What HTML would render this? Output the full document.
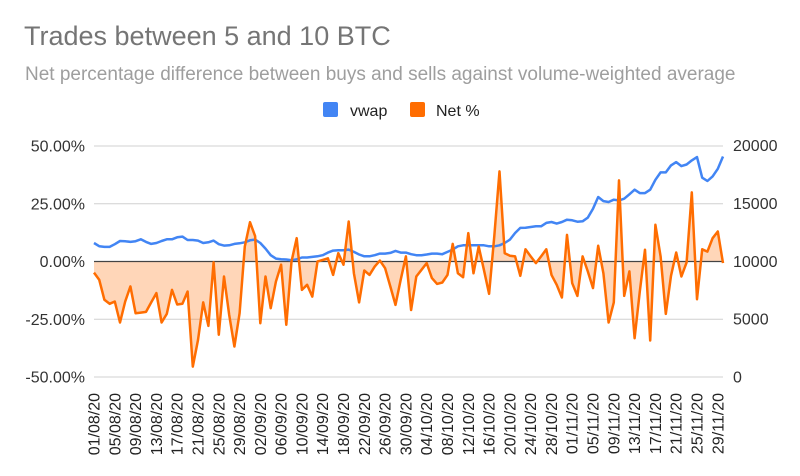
<!DOCTYPE html>
<html><head><meta charset="utf-8"><style>
html,body{margin:0;padding:0;background:#fff;width:800px;height:476px;overflow:hidden;font-family:"Liberation Sans",Arial,sans-serif}
</style></head><body>
<svg id="chart" width="800" height="476" xmlns="http://www.w3.org/2000/svg" font-family="Liberation Sans, Arial, sans-serif">
<text x="24" y="45" font-size="27" fill="#757575">Trades between 5 and 10 BTC</text>
<text x="25" y="80" font-size="19" fill="#9e9e9e">Net percentage difference between buys and sells against volume-weighted average</text>
<g>
<g><rect x="323" y="102" width="15" height="15" rx="2" fill="#4285f4"/><text x="350" y="116" font-size="16" fill="#222">vwap</text></g>
<g><rect x="410" y="102" width="15" height="15" rx="2" fill="#ff6d01"/><text x="436" y="116" font-size="16" fill="#222">Net %</text></g>
</g>
<g id="grid"></g><g id="marks"></g><g id="axes"></g>
</svg>
<script>
const tickLabelsX = ["01/08/20","05/08/20","09/08/20","13/08/20","17/08/20","21/08/20","25/08/20","29/08/20","02/09/20","06/09/20","10/09/20","14/09/20","18/09/20","22/09/20","26/09/20","30/09/20","04/10/20","08/10/20","12/10/20","16/10/20","20/10/20","24/10/20","28/10/20","01/11/20","05/11/20","09/11/20","13/11/20","17/11/20","21/11/20","25/11/20","29/11/20"];
const leftTicks = [-50,-25,0,25,50];
const rightTicks = [0,5000,10000,15000,20000];
const netPct = [-4.8,-7.9,-16.6,-18.3,-17.3,-26.4,-17.3,-10.8,-22.4,-22.1,-21.8,-17.7,-13.7,-26.4,-22.7,-12.3,-18.6,-18.3,-13.0,-45.5,-34.0,-17.7,-27.9,-0.4,-31.7,-6.5,-23.1,-36.8,-22.4,6.5,17.0,11,
-26.7,-6.5,-20.2,-8.7,-1.4,-27.4,0,10.1,-12.3,-10.1,-15.2,0,0.7,1.4,-5.8,3.6,-1.4,17.3,-5.1,-17.7,-3.9,-5.8,-2.2,0.4,-2.9,-10.8,-18.8,-7.9,2.2,-21.0,
-6.5,-3.6,-0.7,-7.2,-9.7,-9.1,-5.8,7.6,-5.1,-6.8,12.3,-5.1,6.5,-3.6,-14.0,11,39.0,3.6,2.5,2.2,-6.2,5.3,2.2,-0.7,2.2,5.3,-5.8,-10.1,-15.6,11.5,-9.4,
-14.9,2.2,-4.3,-11.5,6.8,-5.1,-26.4,-17.7,35.1,-14.9,-4.3,-33.2,-13.0,5.1,-34.2,15.9,2.2,-22.7,-6.2,3.9,-6.5,-0.4,29.9,-16.3,5.3,4.3,10.1,13.0,-0.7];
const vwap = [11580,11300,11240,11240,11470,11750,11730,11670,11730,11900,11670,11500,11580,11750,11900,11900,12070,12130,11840,11840,11780,11580,11640,11780,11470,11350,11380,11500,11550,11640,11810,11870,
11580,11090,10520,10230,10170,10150,10090,10170,10320,10320,10380,10430,10520,10750,10920,10950,10950,11010,10810,10580,10430,10430,10520,10660,10660,10720,10890,10750,10750,10610,
10520,10520,10580,10660,10660,10610,10810,11010,11290,11380,11380,11380,11380,11380,11290,11290,11380,11580,11870,12440,12880,12900,12960,13020,13020,13310,13390,13250,13390,13590,13540,
13420,13450,13770,14540,15550,15200,15120,15320,15260,15400,15780,16180,15890,15890,16180,17040,17680,17680,18280,18570,18220,18360,18710,19000,17220,16930,17330,17990,19050];

const X0=94, X1=723, N=netPct.length;
const xs = i => X0 + i*(X1-X0)/(N-1);
const yL = v => 261.5 - v*115.5/50;
const yR = v => 377 - v*231.5/20000;
const NS="http://www.w3.org/2000/svg";
function mk(tag, attrs, parent){const e=document.createElementNS(NS,tag);for(const k in attrs)e.setAttribute(k,attrs[k]);parent.appendChild(e);return e;}
const grid=document.getElementById('grid'), marks=document.getElementById('marks'), axes=document.getElementById('axes');
leftTicks.forEach((t,i)=>{
  const y=yL(t);
  if(t!==0){const g=mk('line',{x1:X0,x2:X1,y1:y,y2:y,stroke:'#d0d0d0','stroke-width':1},grid);
  
  }
  const tx=mk('text',{x:85,y:y+5.5,'text-anchor':'end','font-size':16,fill:'#333'},axes);
  tx.textContent=t.toFixed(2)+'%';
  
  
});
rightTicks.forEach(t=>{
  const tx=mk('text',{x:733,y:yR(t)+5.5,'font-size':16,fill:'#333'},axes);
  tx.textContent=String(t);
  
  
});
tickLabelsX.forEach((l,i)=>{
  const x=xs(i*4)+5.5;
  const tx=mk('text',{x:x,y:393,'text-anchor':'end','font-size':16,fill:'#222',transform:`rotate(-90 ${x} 393)`},axes);
  tx.textContent=l;
  
  
});
let d=`M${xs(0)},${yL(0)}`;netPct.forEach((v,i)=>d+=` L${xs(i).toFixed(1)},${yL(v).toFixed(1)}`);d+=` L${xs(N-1)},${yL(0)} Z`;
const area=mk('path',{d:d,fill:'#ff6d01','fill-opacity':0.28,stroke:'none'},marks);


const zl=mk('line',{x1:X0,x2:X1,y1:yL(0),y2:yL(0),stroke:'#444','stroke-width':1.2},marks);


const vl=mk('polyline',{points:vwap.map((v,i)=>xs(i).toFixed(1)+','+yR(v).toFixed(1)).join(' '),fill:'none',stroke:'#4285f4','stroke-width':2.5,'stroke-linejoin':'round'},marks);


const nl=mk('polyline',{points:netPct.map((v,i)=>xs(i).toFixed(1)+','+yL(v).toFixed(1)).join(' '),fill:'none',stroke:'#ff6d01','stroke-width':2.5,'stroke-linejoin':'round'},marks);


</script>
</body></html>
